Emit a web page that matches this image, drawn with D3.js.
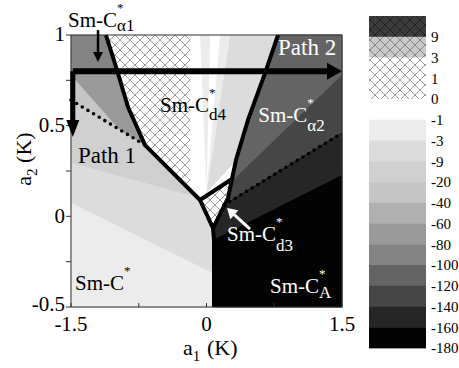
<!DOCTYPE html>
<html>
<head>
<meta charset="utf-8">
<title>phase diagram</title>
<style>
  body { margin: 0; background: #fff; }
</style>
</head>
<body>
<script src="https://cdnjs.cloudflare.com/ajax/libs/d3/7.8.5/d3.min.js"></script>
<script>
const width = 459, height = 368;

// colour levels of the legend, top to bottom
const legendLabels = ["9", "3", "1", "0", "-1", "-3", "-9", "-20", "-40", "-60", "-80", "-100", "-120", "-140", "-160", "-180"];
const bandFills = ["#3c3c3c", "#c9c9c9", "#fff", "#fff", "#fff", "#ececec", "#dcdcdc", "#d0d0d0",
                   "#c6c6c6", "#b0b0b0", "#9a9a9a", "#848484", "#646464", "#464646", "#262626", "#030303"];
const bandHatched = [true, true, true, true, false, false, false, false,
                     false, false, false, false, false, false, false, false];

// axes
const xTicks = [-1.5, -0.75, 0, 0.75, 1.5];
const xTickLabels = ["-1.5", "", "0", "", "1.5"];
const yTicks = [-0.5, -0.25, 0, 0.25, 0.5, 0.75, 1];
const yTickLabels = ["-0.5", "", "0", "", "0.5", "", "1"];

// phase boundaries, [a1, a2] in K
const cd4Left = [[-1.113, 1.0], [-0.991, 0.807], [-0.869, 0.603], [-0.681, 0.393], [-0.072, 0.090]];
const cd4Right = [[0.282, 0.206], [0.327, 0.311], [0.459, 0.531], [0.648, 0.790], [0.792, 1.0]];
const cd3Diamond = [[-0.072, 0.090], [0.282, 0.206], [0.238, 0.101], [0.072, -0.065]];
const caLeft = [[0.072, -0.065], [0.083, -0.131], [0.083, -0.5]];
const dotted1 = [[-1.5, 0.641], [-0.681, 0.393]];
const dotted2 = [[0.194, 0.062], [1.5, 0.459]];

// contour lines between shading levels
const contourL1 = [[-1.5, 0.073], [0.072, -0.313]];
const contourL2 = [[-1.489, 0.294], [-0.072, 0.101]];
const contourD1 = [[-1.5, 0.779], [-0.98, 0.487]];
const contourD2 = [[0.293, 0.200], [1.5, 0.779]];
const contourCA = [[0.072, -0.131], [1.5, 0.228]];
const cd4Apex = [0.0, 0.13];
const cd4HatchEdge = -0.18;
const cd4StripeTops = [[-0.07, 0.04], [0.15, 0.26], [0.26, 1.6]];
const cd4StripeLevels = [5, 5, 6];

// paths
const path1 = [[-1.48, 0.8], [-1.48, 0.437]];
const path2 = [[-1.48, 0.8], [1.5, 0.8]];

const phaseNames = ["α1", "d4", "α2", "d3", "A", ""];

const serif = "'Liberation Serif', 'Times New Roman', Times, serif";
const svg = d3.select("body").append("svg")
  .attr("width", width).attr("height", height)
  .attr("font-family", serif);

const x = d3.scaleLinear().domain([-1.5, 1.5]).range([71, 342]);
const y = d3.scaleLinear().domain([-0.5, 1]).range([307, 35]);
const line = d3.line().x(d => x(d[0])).y(d => y(d[1]));

const defs = svg.append("defs");
function hatch(id, bg, ln) {
  const p = defs.append("pattern").attr("id", id)
    .attr("patternUnits", "userSpaceOnUse").attr("width", 10).attr("height", 10);
  p.append("rect").attr("width", 10).attr("height", 10).attr("fill", bg);
  p.append("path").attr("d", "M0,0L10,10M10,0L0,10").attr("stroke", ln).attr("stroke-width", 0.75);
}
const hatchLines = ["#1a1a1a", "#707070", "#7a7a7a", "#7a7a7a"];
bandFills.forEach((c, i) => { if (bandHatched[i]) hatch("h" + i, c, hatchLines[i]); });
const fillOf = i => bandHatched[i] ? `url(#h${i})` : bandFills[i];

// half plane above/below a segment, extended
function side(seg, up) {
  const [[x0, y0], [x1, y1]] = seg;
  const k = (y1 - y0) / (x1 - x0);
  const at = a => y0 + k * (a - x0);
  const e = up ? 3 : -3;
  return [[-3, at(-3)], [3, at(3)], [3, e], [-3, e]];
}

// phases
const smc = [[-1.5, -0.5], [0.083, -0.5], [0.083, -0.131], [0.072, -0.065], [-0.072, 0.090], [-0.681, 0.393], [-1.5, 0.641]];
const ca1 = [[-1.5, 0.641], [-0.681, 0.393], [-0.869, 0.603], [-0.991, 0.807], [-1.113, 1.0], [-1.5, 1.0]];
const cd4 = cd4Left.concat(cd4Right);
const ca2 = cd4Right.concat([[1.5, 1.0], [1.5, 0.459], [0.194, 0.062], [0.238, 0.101]]);
const caA = [[0.083, -0.5], [1.5, -0.5], [1.5, 0.459], [0.194, 0.062], [0.072, -0.065], [0.083, -0.131]];

const phases = [
  { poly: smc, base: 7, bands: [[side(contourL2, false), 6], [side(contourL1, false), 5]] },
  { poly: ca1, base: 8, bands: [[side(contourD1, true), 10], [[[-3, 0.8], [3, 0.8], [3, 3], [-3, 3]], 11]] },
  { poly: cd4, base: 4, bands: [[[[-3, -3], [cd4HatchEdge, -3], [cd4HatchEdge, 3], [-3, 3]], 3]]
      .concat(cd4StripeTops.map((t, i) => [[cd4Apex, [t[0], 1.0], [t[1], 1.0]], cd4StripeLevels[i]])) },
  { poly: cd3Diamond, base: 2, bands: [] },
  { poly: ca2, base: 13, bands: [[side(contourD2, true), 12]] },
  { poly: caA, base: 15, bands: [[side(contourCA, true), 14]] }
];

const plot = svg.append("g");
phases.forEach((ph, k) => {
  defs.append("clipPath").attr("id", "c" + k)
    .append("path").attr("d", line(ph.poly) + "Z");
  plot.append("path").attr("d", line(ph.poly) + "Z")
    .attr("fill", fillOf(ph.base))
    .attr("stroke", bandHatched[ph.base] ? "none" : bandFills[ph.base]).attr("stroke-width", 1);
  const g = plot.append("g").attr("clip-path", `url(#c${k})`);
  ph.bands.forEach(b => {
    g.append("path").attr("d", line(b[0]) + "Z").attr("fill", fillOf(b[1]));
  });
});

// dotted transitions
[dotted1, dotted2].forEach(d => {
  plot.append("path").attr("d", line(d)).attr("fill", "none")
    .attr("stroke", "#000").attr("stroke-width", 3.6)
    .attr("stroke-linecap", "round").attr("stroke-dasharray", "0 6.6");
});

// first-order boundaries
[cd4Left, cd4Right, caLeft].forEach(d => {
  plot.append("path").attr("d", line(d)).attr("fill", "none")
    .attr("stroke", "#000").attr("stroke-width", 4).attr("stroke-linejoin", "round");
});
plot.append("path").attr("d", line(cd3Diamond) + "Z").attr("fill", "none")
  .attr("stroke", "#000").attr("stroke-width", 4).attr("stroke-linejoin", "round");

// frame and ticks
svg.append("rect").attr("x", x(-1.5)).attr("y", y(1)).attr("width", x(1.5) - x(-1.5))
  .attr("height", y(-0.5) - y(1)).attr("fill", "none").attr("stroke", "#333").attr("stroke-width", 1);
svg.append("g").selectAll("line").data(xTicks).join("line")
  .attr("x1", d => x(d)).attr("x2", d => x(d)).attr("y1", y(-0.5)).attr("y2", y(-0.5) - 4)
  .attr("stroke", "#333");
svg.append("g").selectAll("line").data(yTicks).join("line")
  .attr("x1", x(-1.5) - 5).attr("x2", x(-1.5)).attr("y1", d => y(d)).attr("y2", d => y(d))
  .attr("stroke", "#333");
svg.append("g").selectAll("text").data(xTicks).join("text")
  .attr("x", d => x(d)).attr("y", 331).attr("text-anchor", "middle").attr("font-size", 21)
  .text((d, i) => xTickLabels[i]);
svg.append("g").selectAll("text").data(yTicks).join("text")
  .attr("x", 65).attr("y", d => y(d) - (d === -0.5 ? 2 : 0)).attr("dy", "0.3em")
  .attr("text-anchor", "end").attr("font-size", 21)
  .text((d, i) => yTickLabels[i]);

// axis titles
const xt = svg.append("text").attr("x", 183).attr("y", 355).attr("font-size", 22);
xt.append("tspan").text("a");
xt.append("tspan").attr("dy", 6).attr("font-size", 15).text("1");
xt.append("tspan").attr("x", 207).attr("dy", -6).text("(K)");
const yt = svg.append("text").attr("transform", "translate(31,159) rotate(-90)")
  .attr("text-anchor", "middle").attr("font-size", 22);
yt.append("tspan").text("a");
yt.append("tspan").attr("dy", 6).attr("font-size", 15).text("2");
yt.append("tspan").attr("dy", -6).text(" (K)");

// path arrows
function arrow(seg, w, head, half, color) {
  const [p, q] = seg.map(d => [x(d[0]), y(d[1])]);
  const L = Math.hypot(q[0] - p[0], q[1] - p[1]);
  const ux = (q[0] - p[0]) / L, uy = (q[1] - p[1]) / L;
  const b = [q[0] - ux * head, q[1] - uy * head];
  svg.append("line").attr("x1", p[0]).attr("y1", p[1]).attr("x2", b[0] + ux).attr("y2", b[1] + uy)
    .attr("stroke", color).attr("stroke-width", w);
  svg.append("path").attr("fill", color)
    .attr("d", `M${q[0]},${q[1]}L${b[0] - uy * half},${b[1] + ux * half}L${b[0] + uy * half},${b[1] - ux * half}Z`);
}
arrow(path2, 6, 15, 8.5, "#000");
arrow(path1, 5, 17, 6.5, "#000");
arrow([[-1.201, 1.027], [-1.201, 0.851]], 2.5, 10, 5, "#000");
arrow([[0.482, -0.070], [0.227, 0.046]], 3, 10, 6, "#fff");

// labels
const labelPos = [[-1.533, 1.044, 4, "#000"], [-0.515, 0.577, 8, "#000"], [0.573, 0.522, 9, "#fff"],
                  [0.227, -0.136, 10, "#fff"], [0.703, -0.423, 5, "#fff"], [-1.456, -0.406, 0, "#000"]];
phaseNames.forEach((sub, i) => {
  const [a1, a2, sdy, col] = labelPos[i];
  const g = svg.append("g").attr("transform", `translate(${x(a1)},${y(a2)})`).attr("fill", col);
  const t = g.append("text").attr("font-size", 21).text("Sm-C");
  const w = t.node().getComputedTextLength();
  g.append("text").attr("x", w).attr("y", -15).attr("font-size", 13).text("*");
  if (sub) g.append("text").attr("x", w).attr("y", sdy).attr("font-size", 17).text(sub);
});
svg.append("text").attr("x", x(-1.423)).attr("y", y(0.294)).attr("font-size", 23).text("Path 1");
svg.append("text").attr("x", x(0.792)).attr("y", y(0.890)).attr("font-size", 23).attr("fill", "#fff").text("Path 2");

// legend
const ly = d3.scaleLinear().domain([0, legendLabels.length]).range([16, 348]);
const legend = svg.append("g");
legend.selectAll("rect").data(bandFills).join("rect")
  .attr("x", 369).attr("width", 57)
  .attr("y", (d, i) => ly(i)).attr("height", (d, i) => ly(i + 1) - ly(i) + 0.4)
  .attr("fill", (d, i) => fillOf(i));
legend.selectAll("text").data(legendLabels).join("text")
  .attr("x", 431).attr("y", (d, i) => ly(i + 1)).attr("dy", "0.35em").attr("font-size", 15)
  .text(d => d);
</script>
</body>
</html>
